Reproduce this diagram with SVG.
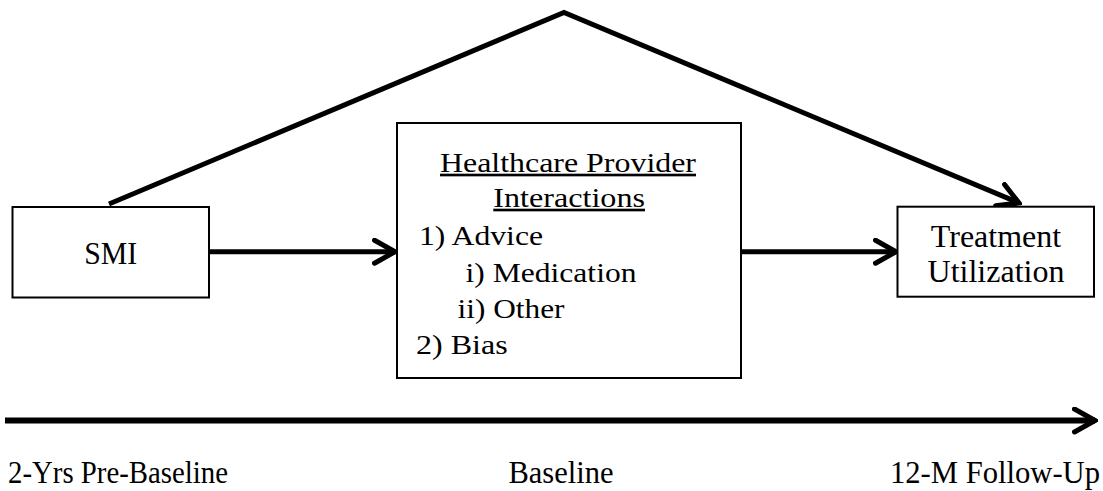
<svg xmlns="http://www.w3.org/2000/svg" width="1103" height="491" viewBox="0 0 1103 491" font-family="'Liberation Serif', 'Times New Roman', 'DejaVu Serif', serif">
  <style>
    .box { fill: #ffffff; stroke: #000000; stroke-width: 2; }
    .link { fill: none; stroke: #000000; stroke-width: 5; stroke-linecap: butt; }
    .timeline { fill: none; stroke: #000000; stroke-width: 6; }
    text { font-family: 'Liberation Serif', 'Times New Roman', 'DejaVu Serif', serif; fill: #000000; }
    .big { font-size: 32px; }
    .inner { font-size: 26.5px; }
    .axis { font-size: 30.5px; }
  </style>
  <defs>
    <marker id="chevron" viewBox="0 0 26 28" refX="23" refY="14" markerWidth="26" markerHeight="28" markerUnits="userSpaceOnUse" orient="auto">
      <path d="M2.5,2.5 L23,14 L2.5,25.5" fill="none" stroke="#000000" stroke-width="5" stroke-linecap="round" stroke-linejoin="miter"/>
    </marker>
  </defs>

  <!-- connectors -->
  <g id="connectors">
    <path id="smi-to-hpi" class="link" d="M209,251.7 L395,251.7" marker-end="url(#chevron)"/>
    <path id="hpi-to-tu" class="link" d="M741,251.7 L896,251.7" marker-end="url(#chevron)"/>
    <path id="smi-to-tu-direct" class="link" d="M109,204 L564,12.5 L1019,203" marker-end="url(#chevron)"/>
  </g>

  <!-- SMI node -->
  <g id="node-smi">
    <rect class="box" x="12.5" y="207" width="196.5" height="90.5"/>
    <text class="big" x="84.3" y="264.3" textLength="53" lengthAdjust="spacingAndGlyphs">SMI</text>
  </g>

  <!-- Healthcare Provider Interactions node -->
  <g id="node-hpi">
    <rect class="box" x="397" y="123" width="344" height="255"/>
    <text class="inner" x="440" y="171.7" textLength="256" lengthAdjust="spacingAndGlyphs" text-decoration="underline">Healthcare Provider</text>
    <text class="inner" x="493.3" y="206.7" textLength="151.7" lengthAdjust="spacingAndGlyphs" text-decoration="underline">Interactions</text>
    <text class="inner" x="419" y="244.5" textLength="124" lengthAdjust="spacingAndGlyphs">1) Advice</text>
    <text class="inner" x="465.5" y="281.5" textLength="171" lengthAdjust="spacingAndGlyphs">i) Medication</text>
    <text class="inner" x="457.5" y="318.3" textLength="107" lengthAdjust="spacingAndGlyphs">ii) Other</text>
    <text class="inner" x="416" y="353.5" textLength="91.7" lengthAdjust="spacingAndGlyphs">2) Bias</text>
  </g>

  <!-- Treatment Utilization node -->
  <g id="node-tu">
    <rect class="box" x="897.5" y="206.7" width="196.5" height="90"/>
    <text class="big" x="996" y="246.7" text-anchor="middle">Treatment</text>
    <text class="big" x="996" y="281.7" text-anchor="middle">Utilization</text>
  </g>

  <!-- time axis -->
  <g id="time-axis">
    <path class="timeline" d="M5,420.5 L1095,420.5" marker-end="url(#chevron)"/>
    <text class="axis" x="8" y="483" textLength="220" lengthAdjust="spacingAndGlyphs">2-Yrs Pre-Baseline</text>
    <text class="axis" x="508.5" y="483" textLength="105" lengthAdjust="spacingAndGlyphs">Baseline</text>
    <text class="axis" x="890" y="483" textLength="210" lengthAdjust="spacingAndGlyphs">12-M Follow-Up</text>
  </g>
</svg>
